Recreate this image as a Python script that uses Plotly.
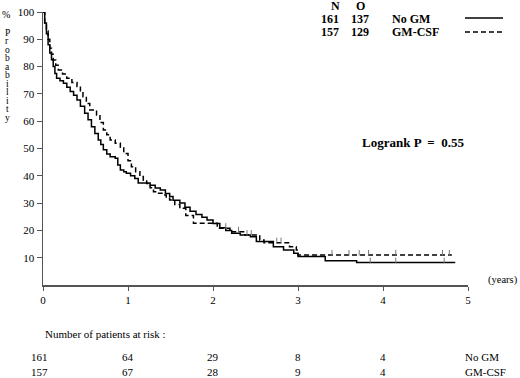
import numpy as np
import plotly.graph_objects as go

# ---- data ----
nogm_t = [0, 0.02, 0.04, 0.06, 0.08, 0.10, 0.12, 0.14, 0.16, 0.20, 0.24, 0.28, 0.32, 0.36, 0.40,
          0.44, 0.49, 0.53, 0.57, 0.61, 0.65, 0.68, 0.71, 0.75, 0.79, 0.85, 0.88, 0.91, 0.95, 0.98,
          1.03, 1.08, 1.12, 1.26, 1.32, 1.38, 1.44, 1.49, 1.53, 1.61, 1.67, 1.73, 1.80, 1.87, 1.93,
          2.00, 2.08, 2.15, 2.22, 2.32, 2.44, 2.51, 2.71, 2.83, 2.95, 3.00, 3.32, 3.69, 4.85]
nogm_s = [100, 96, 92, 88, 85, 82.5, 80, 77.5, 75.7, 74.8, 73.9, 72.4, 70.9, 69.5, 67.8,
          65.5, 62.9, 60.5, 58, 55.5, 53.1, 51.5, 49.5, 48, 47, 46.4, 44, 42.1, 41.5, 40.9,
          40, 39, 37.4, 36.5, 35.5, 34.8, 33.5, 32.4, 31, 30, 28.5, 27, 25.8, 24.8, 23.8,
          22.5, 21, 20, 19, 18.3, 17.7, 15.9, 14.0, 12.8, 11.6, 10.4, 8.9, 8.2, 8.2]

gm_t = [0, 0.02, 0.04, 0.06, 0.08, 0.10, 0.12, 0.15, 0.18, 0.23, 0.28, 0.34, 0.40, 0.44, 0.47,
        0.51, 0.55, 0.63, 0.67, 0.71, 0.75, 0.79, 0.85, 0.91, 0.95, 1.00, 1.04, 1.09, 1.14, 1.18,
        1.22, 1.26, 1.30, 1.36, 1.42, 1.45, 1.49, 1.55, 1.61, 1.68, 1.77, 2.05, 2.20, 2.36, 2.55,
        2.60, 2.90, 2.98, 3.00, 4.81]
gm_s = [100, 96, 93, 90, 86.7, 84.5, 82.4, 80.5, 78.8, 77.3, 75.7, 74.2, 72.7, 70.8, 69,
        66.5, 64.1, 62.3, 59.5, 56.8, 55, 53.1, 51.9, 50.5, 48.2, 45.5, 43.3, 41.5, 39.7, 38.4,
        37.2, 35.6, 34.2, 33.6, 33, 31.8, 31.1, 29.5, 28.1, 25.5, 22.6, 20.8, 19.5, 18.3, 16.5,
        15.5, 14.0, 12.8, 11.0, 11.0]

nogm_cens = [2.40, 3.85, 4.15, 4.72]
gm_cens = [2.15, 2.30, 2.45, 2.75, 2.80, 3.40, 3.60, 3.72, 3.83, 4.15, 4.70, 4.78]

risk_years = [0, 1, 2, 3, 4]
risk_nogm = [161, 64, 29, 8, 4]
risk_gm = [157, 67, 28, 9, 4]

y_ticks = [10, 20, 30, 40, 50, 60, 70, 80, 90, 100]
x_ticks = [0, 1, 2, 3, 4, 5]

FONT = "Liberation Serif, Times New Roman, serif"


def step_val(ts, ss, x):
    i = np.searchsorted(np.array(ts), x, side="right") - 1
    return ss[max(i, 0)]


fig = go.Figure()
fig.add_trace(go.Scatter(x=nogm_t, y=nogm_s, mode="lines", line=dict(color="black", width=1.5, shape="hv"),
                         showlegend=False, hoverinfo="skip"))
fig.add_trace(go.Scatter(x=gm_t, y=gm_s, mode="lines",
                         line=dict(color="black", width=1.5, shape="hv", dash="5px,3px"),
                         showlegend=False, hoverinfo="skip"))
fig.add_trace(go.Scatter(x=nogm_cens, y=[step_val(nogm_t, nogm_s, c) + 0.8 for c in nogm_cens], mode="markers",
                         marker=dict(symbol="line-ns", size=4, line=dict(color="#777", width=1)),
                         showlegend=False, hoverinfo="skip"))
fig.add_trace(go.Scatter(x=gm_cens, y=[step_val(gm_t, gm_s, c) + 0.8 for c in gm_cens], mode="markers",
                         marker=dict(symbol="line-ns", size=4, line=dict(color="#777", width=1)),
                         showlegend=False, hoverinfo="skip"))

W, H = 520, 378
PLOT_L, PLOT_R, PLOT_T, PLOT_B = 43, 468, 12, 285   # reference pixel frame of the axes
L, T = PLOT_L, PLOT_T
pw, ph = PLOT_R - PLOT_L, PLOT_B - PLOT_T
R, B = W - L - pw, H - T - ph


def px_x(px):
    return (px - PLOT_L) / pw


def px_y(py):
    return (PLOT_B - py) / ph


def txt(text, x, y, size=10, anchor="center", xref="paper"):
    return dict(text=text, x=x, y=y, xref=xref, yref="paper", showarrow=False,
                xanchor=anchor, yanchor="middle", font=dict(family=FONT, size=size, color="black"))


ann = []
# vertical y label
ann.append(txt("%", px_x(6), px_y(15), 10))
for i, ch in enumerate("Probability"):
    ann.append(txt(ch, px_x(7), px_y(33 + i * 8.5), 9.5))

ann += [
    txt("<b>N</b>", px_x(335), px_y(6), 12),
    txt("<b>O</b>", px_x(360), px_y(6), 12),
    txt("<b>161</b>", px_x(330), px_y(19), 12),
    txt("<b>137</b>", px_x(360), px_y(19), 12),
    txt("<b>No GM</b>", px_x(390), px_y(19), 12, "left"),
    txt("<b>157</b>", px_x(330), px_y(32), 12),
    txt("<b>129</b>", px_x(360), px_y(32), 12),
    txt("<b>GM-CSF</b>", px_x(390), px_y(32), 12, "left"),
    txt("<b>Logrank P  =  0.55</b>", px_x(413), px_y(142), 13),
    txt("(years)", px_x(503), px_y(280), 10.5),
    txt("Number of patients at risk :", px_x(43), px_y(334), 11, "left"),
]
for yr, a, b in zip(risk_years, risk_nogm, risk_gm):
    ann.append(dict(txt(str(a), yr, px_y(357), 11, xref="x"), xshift=-4 if yr == 0 else 0))
    ann.append(dict(txt(str(b), yr, px_y(372), 11, xref="x"), xshift=-4 if yr == 0 else 0))
ann.append(txt("No GM", px_x(463), px_y(357), 11, "left"))
ann.append(txt("GM-CSF", px_x(463), px_y(372), 11, "left"))

shapes = [
    dict(type="line", xref="paper", yref="paper", x0=px_x(465), x1=px_x(503), y0=px_y(18), y1=px_y(18),
         line=dict(color="black", width=1.5)),
    dict(type="line", xref="paper", yref="paper", x0=px_x(465), x1=px_x(503), y0=px_y(32), y1=px_y(32),
         line=dict(color="black", width=1.5, dash="5px,3px")),
]

fig.update_layout(
    width=W, height=H,
    margin=dict(l=L, r=R, t=T, b=B, autoexpand=False),
    paper_bgcolor="white", plot_bgcolor="white",
    font=dict(family=FONT, size=11, color="black"),
    annotations=ann, shapes=shapes,
    xaxis=dict(range=[0, 5], tickvals=x_ticks, ticks="outside", ticklen=4, tickcolor="#555",
               showline=True, linecolor="#555", linewidth=1.5, showgrid=False, zeroline=False,
               automargin=False, ticklabeloverflow="allow",
               tickfont=dict(family=FONT, size=11, color="black"), fixedrange=True),
    yaxis=dict(range=[0, 100], tickvals=y_ticks, ticks="outside", ticklen=5, tickcolor="#555",
               showline=True, linecolor="#555", linewidth=1.5, showgrid=False, zeroline=False,
               automargin=False, ticklabeloverflow="allow",
               tickfont=dict(family=FONT, size=11, color="black"), fixedrange=True),
)

fig.write_html("out.html", config={"displayModeBar": False, "staticPlot": True},
               post_script="document.body.style.margin='0';")
